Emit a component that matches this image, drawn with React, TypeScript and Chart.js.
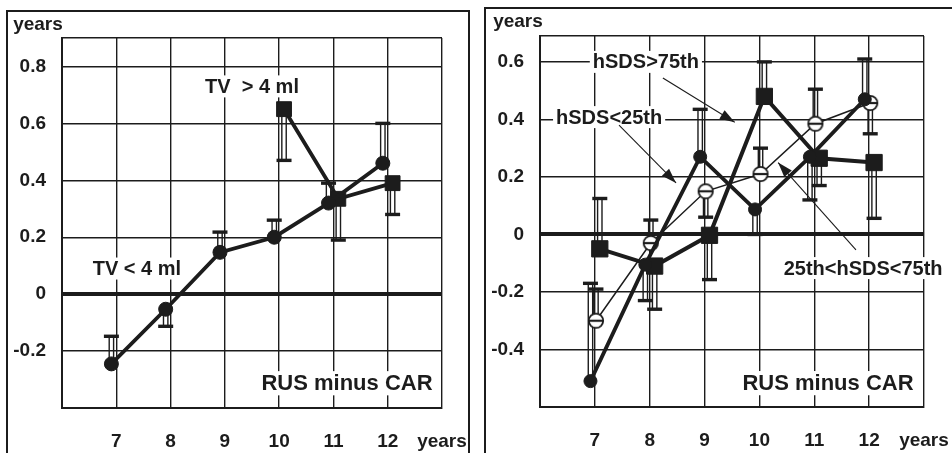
import React, { useEffect, useRef } from 'react';
import { Chart, registerables } from 'chart.js';

Chart.register(...registerables);

const INK = '#1c1c1c';
const FONT = '"Liberation Sans", Arial, sans-serif';

// ---------- axes ----------
const xTickValues = [6, 7, 8, 9, 10, 11, 12, 13];
const xTickLabels = ['', '7', '8', '9', '10', '11', '12', 'years'];

const leftYTickValues = [-0.4, -0.2, 0, 0.2, 0.4, 0.6, 0.8, 0.9];
const leftYTickLabels = ['', '-0.2', '0', '0.2', '0.4', '0.6', '0.8', ''];

const rightYTickValues = [-0.6, -0.4, -0.2, 0, 0.2, 0.4, 0.6, 0.69];
const rightYTickLabels = ['', '-0.4', '-0.2', '0', '0.2', '0.4', '0.6', ''];

// ---------- left panel data ----------
const tvSmallYears = [7, 8, 9, 10, 11, 12];
const tvSmallValues = [-0.245, -0.053, 0.147, 0.2, 0.32, 0.46];
const tvSmallErrEnd = [-0.148, -0.113, 0.218, 0.26, 0.39, 0.6];

const tvLargeYears = [10, 11, 12];
const tvLargeValues = [0.65, 0.335, 0.39];
const tvLargeErrEnd = [0.47, 0.19, 0.28];

// ---------- right panel data ----------
const hsdsYears = [7, 8, 9, 10, 11, 12];
const hsdsHighValues = [-0.05, -0.11, -0.003, 0.48, 0.265, 0.25];
const hsdsHighErrEnd = [0.125, -0.26, -0.157, 0.6, 0.17, 0.056];
const hsdsLowValues = [-0.51, -0.105, 0.27, 0.087, 0.27, 0.47];
const hsdsLowErrEnd = [-0.17, -0.23, 0.435, 0.0, 0.12, 0.61];
const hsdsMidValues = [-0.3, -0.03, 0.15, 0.21, 0.385, 0.457];
const hsdsMidErrEnd = [-0.19, 0.05, 0.06, 0.3, 0.505, 0.35];

// ---------- annotation texts ----------
const leftNoteTexts = ['TV  > 4 ml', 'TV < 4 ml', 'RUS minus CAR'];
const rightNoteTexts = ['hSDS>75th', 'hSDS<25th', '25th<hSDS<75th', 'RUS minus CAR'];

function pts(xs: number[], ys: number[], off: number) {
  return xs.map((x, i) => ({ x: x + off, y: ys[i] }));
}

function hollowMarker(): HTMLCanvasElement {
  const c = document.createElement('canvas');
  c.width = 18;
  c.height = 18;
  const g = c.getContext('2d')!;
  g.beginPath();
  g.arc(9, 9, 7.2, 0, Math.PI * 2);
  g.fillStyle = '#ffffff';
  g.fill();
  g.lineWidth = 1.8;
  g.strokeStyle = INK;
  g.stroke();
  g.beginPath();
  g.moveTo(2, 9);
  g.lineTo(16, 9);
  g.lineWidth = 2.2;
  g.stroke();
  return c;
}

const decorPlugin = {
  id: 'decor',
  beforeDatasetsDraw(chart: any, _args: any, opts: any) {
    const ctx = chart.ctx as CanvasRenderingContext2D;
    const xs = chart.scales.x;
    const ys = chart.scales.y;
    const area = chart.chartArea;
    ctx.save();
    // y title
    ctx.font = `bold 19px ${FONT}`;
    ctx.fillStyle = INK;
    ctx.textAlign = 'center';
    ctx.textBaseline = 'middle';
    ctx.fillText('years', area.left + opts.yTitleDx, area.top + opts.yTitleDy);

    // notes
    (opts.notes || []).forEach((n: any) => {
      ctx.font = `bold ${n.size}px ${FONT}`;
      const px = xs.getPixelForValue(n.x);
      const py = ys.getPixelForValue(n.y);
      const w = ctx.measureText(n.text).width;
      ctx.fillStyle = '#ffffff';
      ctx.fillRect(px - w / 2 - 3, py - n.size * 0.55, w + 6, n.size * 1.1);
      ctx.fillStyle = INK;
      ctx.fillText(n.text, px, py + 1);
    });

    // arrows
    (opts.arrows || []).forEach((a: any) => {
      const x0 = xs.getPixelForValue(a.x0);
      const y0 = ys.getPixelForValue(a.y0);
      const x1 = xs.getPixelForValue(a.x1);
      const y1 = ys.getPixelForValue(a.y1);
      ctx.strokeStyle = INK;
      ctx.lineWidth = 1.1;
      ctx.beginPath();
      ctx.moveTo(x0, y0);
      ctx.lineTo(x1, y1);
      ctx.stroke();
      const ang = Math.atan2(y1 - y0, x1 - x0);
      const L = 15;
      const W = 5;
      const bx = x1 - L * Math.cos(ang);
      const by = y1 - L * Math.sin(ang);
      ctx.fillStyle = INK;
      ctx.beginPath();
      ctx.moveTo(x1, y1);
      ctx.lineTo(bx + W * Math.sin(ang), by - W * Math.cos(ang));
      ctx.lineTo(bx - W * Math.sin(ang), by + W * Math.cos(ang));
      ctx.closePath();
      ctx.fill();
    });

    // error bars
    chart.data.datasets.forEach((ds: any, i: number) => {
      const ends = ds.errEnd as number[] | undefined;
      if (!ends) return;
      const meta = chart.getDatasetMeta(i);
      meta.data.forEach((pt: any, j: number) => {
        const x = pt.x;
        const y0 = pt.y;
        const y1 = ys.getPixelForValue(ends[j]);
        ctx.strokeStyle = INK;
        ctx.lineWidth = 1.4;
        ctx.beginPath();
        ctx.moveTo(x - 2.2, y0);
        ctx.lineTo(x - 2.2, y1);
        ctx.moveTo(x + 2.2, y0);
        ctx.lineTo(x + 2.2, y1);
        ctx.stroke();
        ctx.lineWidth = 3.4;
        ctx.beginPath();
        ctx.moveTo(x - 7.5, y1);
        ctx.lineTo(x + 7.5, y1);
        ctx.stroke();
      });
    });
    ctx.restore();
  },
};

function makeScales(yTicks: number[], yLabels: string[], yWidth: number, xHeight: number) {
  const lw = (ctx: any) => {
    const v = ctx.tick ? ctx.tick.value : null;
    if (v === 0) return 4;
    return 1.4;
  };
  return {
    x: {
      type: 'linear',
      min: 6,
      max: 13,
      afterBuildTicks: (s: any) => {
        s.ticks = xTickValues.map((v) => ({ value: v }));
      },
      afterFit: (s: any) => {
        s.height = xHeight;
        s.paddingLeft = 0;
        s.paddingRight = 0;
      },
      ticks: {
        callback: (_v: any, i: number) => xTickLabels[i],
        font: { family: FONT, size: 19, weight: 'bold' },
        color: INK,
        padding: 22,
        maxRotation: 0,
        autoSkip: false,
      },
      grid: { color: INK, lineWidth: 1.4, drawTicks: false },
      border: { display: true, color: INK, width: 2 },
    },
    y: {
      type: 'linear',
      min: yTicks[0],
      max: yTicks[yTicks.length - 1],
      afterBuildTicks: (s: any) => {
        s.ticks = yTicks.map((v) => ({ value: v }));
      },
      afterFit: (s: any) => {
        s.width = yWidth;
        s.paddingTop = 0;
        s.paddingBottom = 0;
      },
      ticks: {
        callback: (_v: any, i: number) => yLabels[i],
        font: { family: FONT, size: 19, weight: 'bold' },
        color: INK,
        padding: 16,
        autoSkip: false,
      },
      grid: { color: INK, lineWidth: lw, drawTicks: false },
      border: { display: true, color: INK, width: 2 },
    },
  };
}

function useChart(ref: React.RefObject<HTMLCanvasElement | null>, build: () => any) {
  useEffect(() => {
    if (!ref.current) return;
    const chart = new Chart(ref.current, build());
    return () => chart.destroy();
  }, []);
}

export default function App() {
  const leftRef = useRef<HTMLCanvasElement | null>(null);
  const rightRef = useRef<HTMLCanvasElement | null>(null);

  useChart(leftRef, () => ({
    type: 'line',
    data: {
      datasets: [
        {
          label: 'TV < 4 ml',
          data: pts(tvSmallYears, tvSmallValues, -0.09),
          errEnd: tvSmallErrEnd,
          borderColor: INK,
          backgroundColor: INK,
          borderWidth: 3.8,
          pointStyle: 'circle',
          pointRadius: 7,
          pointBorderWidth: 1,
          pointBackgroundColor: INK,
          pointBorderColor: INK,
        },
        {
          label: 'TV > 4 ml',
          data: pts(tvLargeYears, tvLargeValues, 0.09),
          errEnd: tvLargeErrEnd,
          borderColor: INK,
          backgroundColor: INK,
          borderWidth: 3.8,
          pointStyle: 'rect',
          pointRadius: 10.5,
          pointBorderWidth: 1,
          pointBackgroundColor: INK,
          pointBorderColor: INK,
        },
      ],
    },
    options: {
      responsive: false,
      animation: false,
      layout: { padding: { left: 0, right: 34, top: 38, bottom: 0 } },
      scales: makeScales(leftYTickValues, leftYTickLabels, 62, 45),
      plugins: {
        legend: { display: false },
        tooltip: { enabled: false },
        decor: {
          yTitleDx: -24,
          yTitleDy: -13,
          notes: [
            { text: leftNoteTexts[0], x: 9.5, y: 0.73, size: 20 },
            { text: leftNoteTexts[1], x: 7.38, y: 0.09, size: 20 },
            { text: leftNoteTexts[2], x: 11.25, y: -0.313, size: 22 },
          ],
          arrows: [],
        },
      },
    },
    plugins: [decorPlugin],
  }));

  useChart(rightRef, () => ({
    type: 'line',
    data: {
      datasets: [
        {
          label: 'hSDS<25th',
          data: pts(hsdsYears, hsdsLowValues, -0.08),
          errEnd: hsdsLowErrEnd,
          borderColor: INK,
          backgroundColor: INK,
          borderWidth: 3.8,
          pointStyle: 'circle',
          pointRadius: 6.5,
          pointBorderWidth: 1,
          pointBackgroundColor: INK,
          pointBorderColor: INK,
        },
        {
          label: '25th<hSDS<75th',
          data: pts(hsdsYears, hsdsMidValues, 0.02),
          errEnd: hsdsMidErrEnd,
          borderColor: INK,
          backgroundColor: '#ffffff',
          borderWidth: 1.5,
          pointStyle: hollowMarker(),
          pointRadius: 8,
        },
        {
          label: 'hSDS>75th',
          data: pts(hsdsYears, hsdsHighValues, 0.09),
          errEnd: hsdsHighErrEnd,
          borderColor: INK,
          backgroundColor: INK,
          borderWidth: 4,
          pointStyle: 'rect',
          pointRadius: 11.5,
          pointBorderWidth: 1,
          pointBackgroundColor: INK,
          pointBorderColor: INK,
        },
      ],
    },
    options: {
      responsive: false,
      animation: false,
      layout: { padding: { left: 0, right: 28, top: 36, bottom: 0 } },
      scales: makeScales(rightYTickValues, rightYTickLabels, 64, 46),
      plugins: {
        legend: { display: false },
        tooltip: { enabled: false },
        decor: {
          yTitleDx: -22,
          yTitleDy: -14,
          notes: [
            { text: rightNoteTexts[0], x: 7.93, y: 0.6, size: 20 },
            { text: rightNoteTexts[1], x: 7.26, y: 0.408, size: 20 },
            { text: rightNoteTexts[2], x: 11.89, y: -0.117, size: 20 },
            { text: rightNoteTexts[3], x: 11.25, y: -0.517, size: 22 },
          ],
          arrows: [
            { x0: 8.24, y0: 0.544, x1: 9.55, y1: 0.39 },
            { x0: 7.44, y0: 0.38, x1: 8.48, y1: 0.179 },
            { x0: 11.76, y0: -0.054, x1: 10.34, y1: 0.25 },
          ],
        },
      },
    },
    plugins: [decorPlugin],
  }));

  return (
    <div style={{ position: 'fixed', left: 0, top: 0, width: 952, height: 453, background: '#ffffff', overflow: 'hidden' }}>
      <div style={{ position: 'absolute', left: 6, top: 10, width: 460, height: 460, border: `2px solid ${INK}` }} />
      <div style={{ position: 'absolute', left: 484, top: 7, width: 480, height: 460, border: `2px solid ${INK}` }} />
      <canvas ref={leftRef} width={476} height={453} style={{ position: 'absolute', left: 0, top: 0 }} />
      <canvas ref={rightRef} width={476} height={453} style={{ position: 'absolute', left: 476, top: 0 }} />
    </div>
  );
}
